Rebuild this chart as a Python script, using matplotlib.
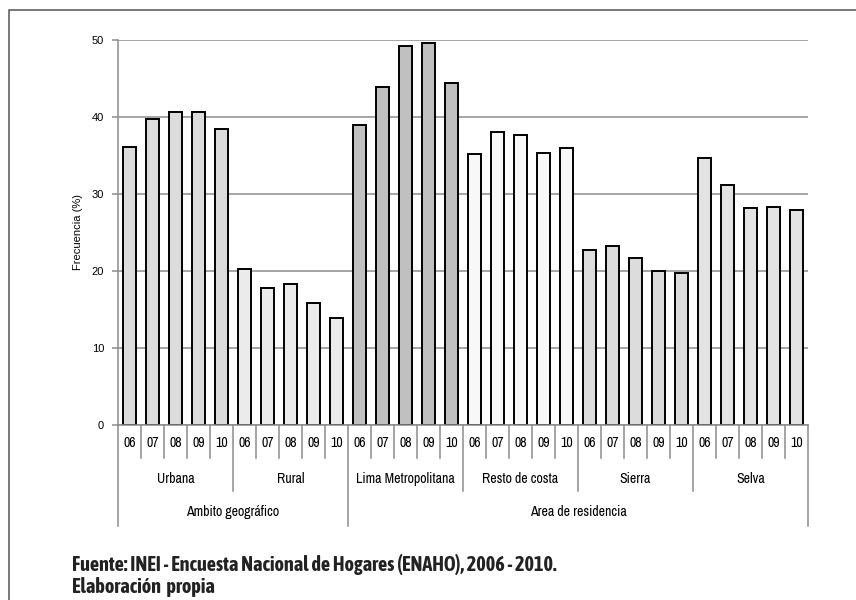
import matplotlib
matplotlib.use("Agg")
import matplotlib.pyplot as plt
import matplotlib.transforms as mtransforms
from matplotlib.patches import Rectangle

# data
years = ["06", "07", "08", "09", "10"]
groups = ["Urbana", "Rural", "Lima Metropolitana", "Resto de costa", "Sierra", "Selva"]
levels = ["Ambito geográfico", "Area de residencia"]
level_size = [2, 4]  # number of groups in each level

urbana = [36.1, 39.7, 40.6, 40.7, 38.4]
rural = [20.3, 17.8, 18.3, 15.9, 13.9]
lima = [38.9, 43.9, 49.2, 49.6, 44.4]
resto = [35.2, 38.0, 37.6, 35.3, 36.0]
sierra = [22.7, 23.2, 21.7, 20.0, 19.8]
selva = [34.7, 31.2, 28.2, 28.3, 27.9]

series = [urbana, rural, lima, resto, sierra, selva]
colors = ["#dcdcdc", "#ebebeb", "#c0c0c0", "#f8f8f8", "#dcdcdc", "#e3e3e3"]

W, H = 856, 600
regular = ["Liberation Sans", "DejaVu Sans"]
narrow = ["Archivo Narrow", "Liberation Sans", "DejaVu Sans"]
narrow_bold = ["Asap Condensed", "Liberation Sans", "DejaVu Sans"]

fig = plt.figure(figsize=(W / 100, H / 100), dpi=100)
ax = fig.add_axes([118 / W, 1 - 425 / H, (808 - 118) / W, (425 - 40) / H])

def fy(py):
    return 1 - py / H

# bars
x = 0
for vals, col in zip(series, colors):
    xs = list(range(x, x + len(vals)))
    ax.bar(xs, vals, width=0.54, color=col, edgecolor="black", linewidth=1.4, zorder=3)
    x += len(vals)
n = x

ax.set_xlim(-0.5, n - 0.5)
ax.set_ylim(0, 50)
ax.set_yticks(range(0, 51, 10))
ax.yaxis.grid(True, color="#8c8c8c", linewidth=1.1)
ax.set_axisbelow(True)
for s in ["top", "right"]:
    ax.spines[s].set_visible(False)
for s in ["left", "bottom"]:
    ax.spines[s].set_color("#8c8c8c")
    ax.spines[s].set_linewidth(1.1)
    ax.spines[s].set_zorder(4)
ax.set_xticks([])
ax.tick_params(axis="y", length=4, color="#8c8c8c", width=1.1, labelsize=8, pad=6)
for lab in ax.get_yticklabels():
    lab.set_family(regular)

fig.text(78 / W, fy(232), "Frecuencia (%)", rotation=90, ha="center", va="center",
         fontsize=8, family=regular)

# multi-level category axis
tr = mtransforms.blended_transform_factory(ax.transData, fig.transFigure)
lc = "#8c8c8c"
for i in range(n + 1):
    xb = i - 0.5
    if i == 0 or i == n or i == level_size[0] * len(years):
        bottom = 526
    elif i % len(years) == 0:
        bottom = 491
    else:
        bottom = 458
    ax.plot([xb, xb], [fy(425), fy(bottom)], color=lc, lw=1.1, transform=tr, clip_on=False)

for i in range(n):
    ax.text(i, fy(443), years[i % len(years)], transform=tr, ha="center", va="center",
            fontsize=10, family=narrow)
for g, name in enumerate(groups):
    xc = g * len(years) + (len(years) - 1) / 2
    ax.text(xc, fy(479), name, transform=tr, ha="center", va="center",
            fontsize=10, family=narrow)
start = 0
for name, k in zip(levels, level_size):
    end = start + k * len(years)
    ax.text((start + end - 1) / 2, fy(512), name, transform=tr, ha="center", va="center",
            fontsize=10, family=narrow)
    start = end

# footer
fig.text(72 / W, fy(571), "Fuente: INEI - Encuesta Nacional de Hogares (ENAHO), 2006 - 2010.",
         ha="left", va="baseline", fontsize=14.5, fontweight="bold", family=narrow_bold,
         color="#222222")
fig.text(72 / W, fy(593), "Elaboración  propia",
         ha="left", va="baseline", fontsize=14.5, fontweight="bold", family=narrow_bold,
         color="#222222")

# outer frame
fig.patches.append(Rectangle((9 / W, -0.1), 1.2, fy(10) + 0.1, transform=fig.transFigure,
                             fill=False, edgecolor="#555555", linewidth=1.1))

fig.savefig("out.png", dpi=100)
